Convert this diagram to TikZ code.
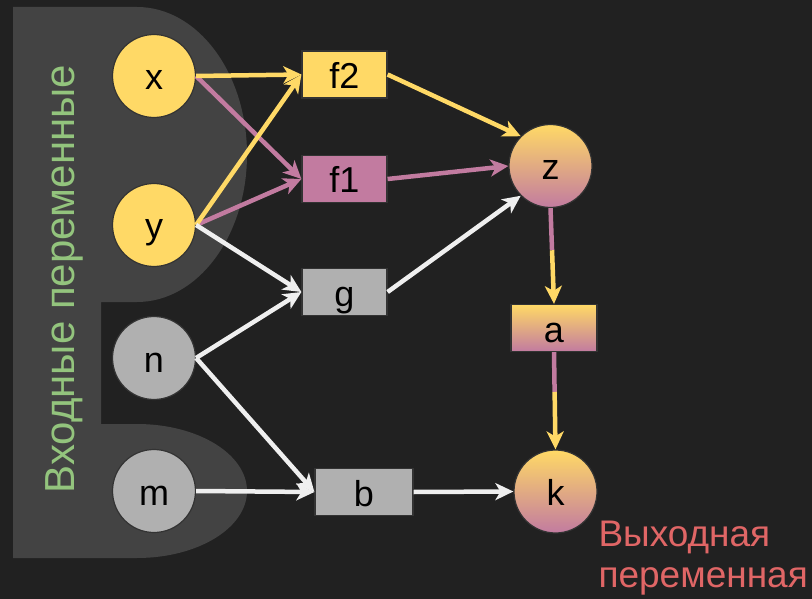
\documentclass[tikz,border=0pt]{standalone}
\usepackage{fontspec}
\setmainfont{Liberation Sans}
\usetikzlibrary{arrows.meta, calc}

\definecolor{bgdark}{HTML}{212121}
\definecolor{panel}{HTML}{434343}
\definecolor{yel}{HTML}{FFD966}
\definecolor{pnk}{HTML}{C27BA0}
\definecolor{grayfill}{HTML}{B0B0B0}
\definecolor{nodeline}{HTML}{333333}
\definecolor{wire}{HTML}{EFEFEF}
\definecolor{inlabel}{HTML}{93C47D}
\definecolor{outlabel}{HTML}{E06666}

\begin{document}
\begin{tikzpicture}[x=1pt, y=-1pt,
  lbl/.style={font=\fontsize{36}{40}\selectfont, text height=28pt, text depth=0pt},
  var/.style={circle, draw=nodeline, line width=1.2pt, minimum size=83pt, inner sep=0pt, lbl},
  op/.style={rectangle, draw=nodeline, line width=1.2pt, minimum width=85pt, minimum height=47pt, inner sep=0pt, lbl},
  mix/.style={top color=yel, bottom color=pnk},
  wirearrow/.style={line width=4.5pt, -{Stealth[length=18pt, width=17pt, inset=5pt]}},
  plainwire/.style={line width=4.5pt}
]
% canvas
\useasboundingbox (0,0) rectangle (812,599);
\fill[bgdark] (0,0) rectangle (812,599);

% grey backdrop behind the input variables
\fill[panel] (13,7) -- (137,7)
  arc[start angle=90, end angle=-90, x radius=110pt, y radius=147.5pt]
  -- (101,302) -- (101,424) -- (137,424)
  arc[start angle=90, end angle=-90, x radius=110pt, y radius=67pt]
  -- (13,558) -- cycle;

\node[rotate=90, anchor=base, text=inlabel, font=\fontsize{42}{46}\selectfont]
  (inputs) at (74,279) {Входные переменные};

% input variables
\node[var, fill=yel] (x) at (154,76) {x};
\node[var, fill=yel] (y) at (154,225) {y};
\node[var, fill=grayfill] (n) at (154,358) {n};
\node[var, fill=grayfill] (m) at (154,491) {m};

% operations
\node[op, fill=yel] (f2) at (344.5,74.5) {f2};
\node[op, fill=pnk] (f1) at (344.5,179) {f1};
\node[op, fill=grayfill] (g) at (344.5,292) {g};
\node[op, fill=grayfill, minimum width=98pt] (b) at (364,492) {b};

% intermediate and output variables
\node[var, mix] (z) at (550.5,166) {z};
\node[op, mix, minimum width=86pt] (a) at (554,328) {a};
\node[var, mix] (k) at (555.5,491.5) {k};

% caption under the output variable (anchored at the last line's baseline)
\node[anchor=base west, text=outlabel, align=left,
  font=\fontsize{37}{41}\selectfont] (output) at (595,587)
  {Выходная\\переменная};

% connectors into f1 / f2
\draw[wirearrow, pnk] (x.east) -- (f1.west);
\draw[wirearrow, yel] (x.east) -- (f2.west);
\draw[wirearrow, pnk] (y.east) -- (f1.west);
\draw[wirearrow, yel] (y.east) -- (f2.west);

% grey inputs
\draw[wirearrow, wire] (y.east) -- (g.west);
\draw[wirearrow, wire] (n.east) -- (g.west);
\draw[wirearrow, wire] (n.east) -- (b.west);
\draw[wirearrow, wire] (m.east) -- (b.west);

% into z
\draw[wirearrow, yel] (f2.east) -- (z.north west);
\draw[wirearrow, pnk] (f1.east) -- (z.west);
\draw[wirearrow, wire] (g.east) -- (z.south west);

% z -> a -> k, two-coloured links
\coordinate (za) at ($(z.south)!0.44!(a.north)$);
\draw[plainwire, pnk] (z.south) -- (za);
\draw[wirearrow, yel] (za) -- (a.north);
\coordinate (ak) at ($(a.south)!0.41!(k.north)$);
\draw[plainwire, pnk] (a.south) -- (ak);
\draw[wirearrow, yel] (ak) -- (k.north);

\draw[wirearrow, wire] (b.east) -- (k.west);
\end{tikzpicture}
\end{document}
